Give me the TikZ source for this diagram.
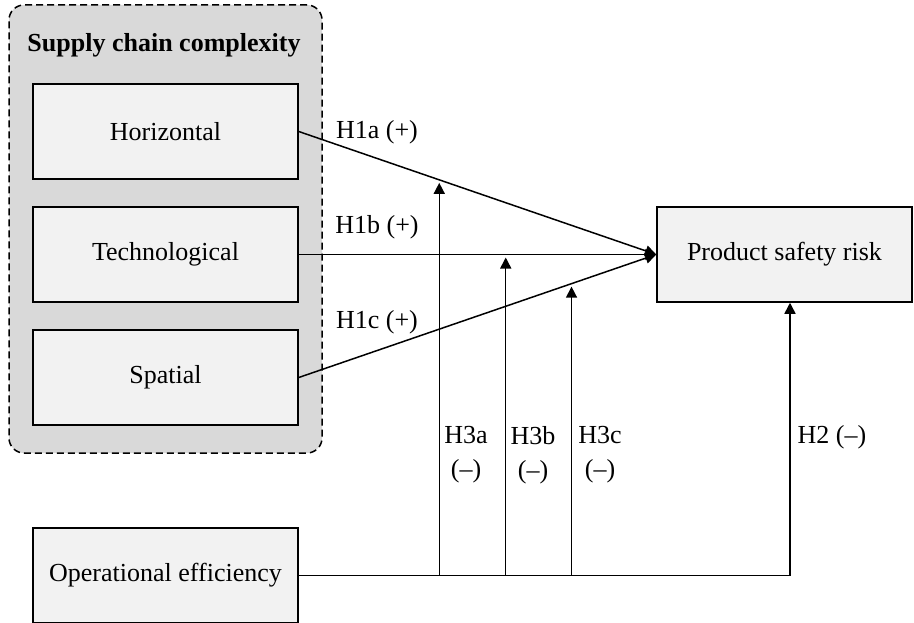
\documentclass[tikz,border=0pt]{standalone}
\usepackage{fontspec}
\setmainfont{Liberation Serif}
\usetikzlibrary{arrows.meta}
\tikzset{%
  >={Triangle[length=11pt,width=11pt]}
}

\begin{document}
\begin{tikzpicture}[x=1pt,y=-1pt,line width=1.5pt,
    font=\fontsize{26}{34}\selectfont,
    box/.style={draw,fill=black!5,minimum width=265pt,minimum height=95pt,inner sep=0pt},
    grpbox/.style={draw,fill=black!15,dash pattern=on 7pt off 4pt,rounded corners=15pt},
    lbl/.style={inner sep=0pt,align=center},
    mod/.style={->,shorten >=3pt}]
     \useasboundingbox (0,0) rectangle (914,623);

     % supply chain complexity group
     \node[grpbox,minimum width=313pt,minimum height=448pt] (grp) at (165.5,229) {};
     \node[lbl,font=\fontsize{26}{34}\selectfont\bfseries] (title) at (164,45) {Supply chain complexity};
     \node[box] (hor) at (165.5,131.5) {Horizontal};
     \node[box] (tech) at (165.5,254.5) {Technological};
     \node[box] (spat) at (165.5,377.5) {Spatial};

     \node[box,minimum width=255pt] (psr) at (784.5,254.5) {Product safety risk};
     \node[box] (opeff) at (165.5,575.5) {Operational efficiency};

     % main effects
     \draw[->] (hor.east) -- (psr.west);
     \draw[->] (tech.east) -- (psr.west);
     \draw[->] (spat.east) -- (psr.west);
     \node[lbl] (h1a) at (377,132) {H1a (+)};
     \node[lbl] (h1b) at (377,227) {H1b (+)};
     \node[lbl] (h1c) at (377,322) {H1c (+)};

     \coordinate (into) at ([xshift=5.5pt]psr.south);
     \draw[->] (opeff.east) -| (into);
     \node[lbl] (h2) at (832,437) {H2 (–)};

     % moderation
     \path (hor.east) -- (psr.west) coordinate[pos=0.393] (ma);
     \path (tech.east) -- (psr.west) coordinate[pos=0.579] (mb);
     \path (spat.east) -- (psr.west) coordinate[pos=0.763] (mc);
     \foreach \m in {ma,mb,mc}
       \draw[mod] (\m |- opeff.east) -- (\m);
     \node[lbl] (h3a) at (466,455) {H3a\\(–)};
     \node[lbl] (h3b) at (533,455) {H3b\\(–)};
     \node[lbl] (h3c) at (600,455) {H3c\\(–)};

\end{tikzpicture}
\end{document}
